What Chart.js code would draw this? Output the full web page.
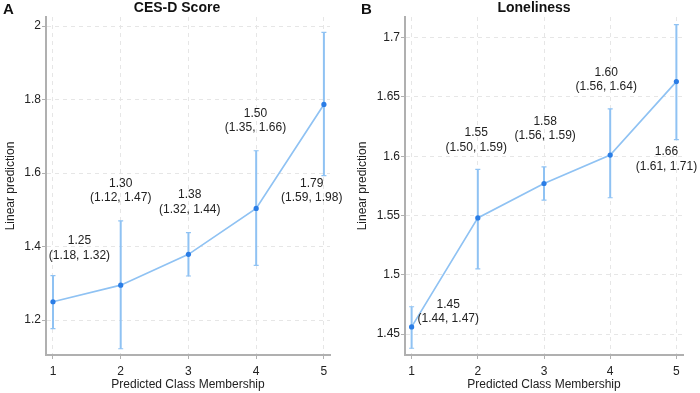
<!DOCTYPE html>
<html>
<head>
<meta charset="utf-8">
<script src="https://cdn.jsdelivr.net/npm/chart.js@4"></script>
<style>
  body { margin: 0; background: #fff; }
  .panel { position: absolute; top: 0; width: 350px; height: 393px; }
</style>
</head>
<body>
<div class="panel" style="left:0"><canvas id="chartA" width="350" height="393"></canvas></div>
<div class="panel" style="left:350px"><canvas id="chartB" width="350" height="393"></canvas></div>
<script>
// Data
const classes = [1, 2, 3, 4, 5];
const xTicks = [1, 2, 3, 4, 5];

// Panel A - CES-D score
const cesdMean = [1.250, 1.295, 1.379, 1.504, 1.787];
const cesdLow = [1.177, 1.122, 1.320, 1.349, 1.593];
const cesdHigh = [1.321, 1.470, 1.438, 1.661, 1.983];
const cesdValueText = ["1.25", "1.30", "1.38", "1.50", "1.79"];
const cesdCIText = ["(1.18, 1.32)", "(1.12, 1.47)", "(1.32, 1.44)", "(1.35, 1.66)", "(1.59, 1.98)"];
const cesdTicks = [1.2, 1.4, 1.6, 1.8, 2];

// Panel B - Loneliness
const lonMean = [1.456, 1.548, 1.577, 1.601, 1.663];
const lonLow = [1.438, 1.505, 1.563, 1.565, 1.614];
const lonHigh = [1.473, 1.589, 1.591, 1.640, 1.711];
const lonValueText = ["1.45", "1.55", "1.58", "1.60", "1.66"];
const lonCIText = ["(1.44, 1.47)", "(1.50, 1.59)", "(1.56, 1.59)", "(1.56, 1.64)", "(1.61, 1.71)"];
const lonTicks = [1.45, 1.5, 1.55, 1.6, 1.65, 1.7];

const FONT = "'Liberation Sans', Arial, sans-serif";
const LINE_BLUE = "#8fc2f3";
const DOT_BLUE = "#2a7de6";

// error bars with small caps, drawn under the line
const errorBars = {
  id: "errorBars",
  beforeDatasetsDraw(chart, args, opts) {
    const { ctx, scales: { x, y } } = chart;
    ctx.save();
    ctx.strokeStyle = opts.color;
    ctx.lineWidth = opts.width;
    opts.low.forEach((lo, i) => {
      const px = x.getPixelForValue(opts.at[i]);
      const top = y.getPixelForValue(opts.high[i]);
      const bot = y.getPixelForValue(lo);
      ctx.beginPath();
      ctx.moveTo(px, top);
      ctx.lineTo(px, bot);
      ctx.stroke();
      ctx.lineWidth = 1.2;
      ctx.beginPath();
      ctx.moveTo(px - opts.cap, top);
      ctx.lineTo(px + opts.cap, top);
      ctx.moveTo(px - opts.cap, bot);
      ctx.lineTo(px + opts.cap, bot);
      ctx.stroke();
      ctx.lineWidth = opts.width;
    });
    ctx.restore();
  },
};

// value + CI text next to each point
const pointLabels = {
  id: "pointLabels",
  afterDatasetsDraw(chart, args, opts) {
    const { ctx, scales: { x, y } } = chart;
    ctx.save();
    ctx.font = "12px " + FONT;
    ctx.fillStyle = "#222";
    ctx.textAlign = "center";
    ctx.textBaseline = "middle";
    opts.spots.forEach((s, i) => {
      const px = x.getPixelForValue(s[0]);
      const py = y.getPixelForValue(s[1]);
      ctx.fillText(opts.value[i], px, py);
      ctx.fillText(opts.ci[i], px, py + 14.5);
    });
    ctx.restore();
  },
};

// panel letter and title
const panelHead = {
  id: "panelHead",
  afterDraw(chart, args, opts) {
    const { ctx } = chart;
    ctx.save();
    ctx.fillStyle = "#111";
    ctx.textBaseline = "middle";
    ctx.font = "bold 15px " + FONT;
    ctx.textAlign = "left";
    ctx.fillText(opts.letter, opts.letterX, 10);
    ctx.font = "bold 14px " + FONT;
    ctx.textAlign = "center";
    ctx.fillText(opts.title, opts.titleX, 8);
    ctx.restore();
  },
};

function makePanel(id, p) {
  return new Chart(document.getElementById(id), {
    type: "line",
    data: {
      datasets: [
        {
          data: classes.map((c, i) => ({ x: c, y: p.mean[i] })),
          borderColor: LINE_BLUE,
          borderWidth: 1.7,
          pointRadius: 2.6,
          pointBorderWidth: 0,
          pointBackgroundColor: DOT_BLUE,
          tension: 0,
        },
      ],
    },
    options: {
      responsive: false,
      animation: false,
      devicePixelRatio: 1,
      layout: { padding: { left: 0, right: p.padRight, top: 17, bottom: 0 } },
      plugins: {
        legend: { display: false },
        tooltip: { enabled: false },
        errorBars: { low: p.low, high: p.high, at: classes, color: LINE_BLUE, width: 2, cap: 2.5 },
        pointLabels: { spots: p.spots, value: p.valueText, ci: p.ciText },
        panelHead: { letter: p.letter, letterX: p.letterX, title: p.title, titleX: p.titleX },
      },
      scales: {
        x: {
          type: "linear",
          min: p.xMin,
          max: p.xMax,
          afterBuildTicks: (s) => { s.ticks = xTicks.map((v) => ({ value: v })); },
          afterFit: (s) => { s.height = 38; },
          grid: { color: "#e6e6e6", lineWidth: 1, tickLength: 4, tickColor: "#b0b0b0", tickWidth: 1 },
          border: { color: "#b0b0b0", width: 2, dash: [4, 4] },
          ticks: { color: "#222", padding: 5, maxRotation: 0, font: { family: FONT, size: 12 } },
          title: {
            display: true,
            text: "Predicted Class Membership",
            color: "#222",
            padding: { top: 0, bottom: 1 },
            font: { family: FONT, size: 12 },
          },
        },
        y: {
          min: p.yMin,
          max: p.yMax,
          afterBuildTicks: (s) => { s.ticks = p.yTicks.map((v) => ({ value: v })); },
          afterFit: (s) => { s.width = p.yAxisWidth; },
          grid: { color: "#e6e6e6", lineWidth: 1, tickLength: 4, tickColor: "#b0b0b0", tickWidth: 1 },
          border: { color: "#b0b0b0", width: 2, dash: [4, 4] },
          ticks: {
            color: "#222",
            padding: 1,
            font: { family: FONT, size: 12 },
            callback: (v) => String(Number(v.toFixed(2))),
          },
          title: {
            display: true,
            text: "Linear prediction",
            color: "#222",
            padding: { top: p.yTitlePad, bottom: 0 },
            font: { family: FONT, size: 12 },
          },
        },
      },
    },
    plugins: [errorBars, pointLabels, panelHead],
  });
}

makePanel("chartA", {
  mean: cesdMean, low: cesdLow, high: cesdHigh,
  valueText: cesdValueText, ciText: cesdCIText, yTicks: cesdTicks,
  yMin: 1.105, yMax: 2.025, xMin: 0.897, xMax: 5.09,
  yAxisWidth: 46, padRight: 20, yTitlePad: 3,
  letter: "A", letterX: 3, title: "CES-D Score", titleX: 177,
  spots: [[1.39, 1.415], [2.0, 1.572], [3.02, 1.54], [3.99, 1.762], [4.82, 1.572]],
});

makePanel("chartB", {
  mean: lonMean, low: lonLow, high: lonHigh,
  valueText: lonValueText, ciText: lonCIText, yTicks: lonTicks,
  yMin: 1.4323, yMax: 1.7175, xMin: 0.9, xMax: 5.1,
  yAxisWidth: 55, padRight: 17, yTitlePad: 5,
  letter: "B", letterX: 11, title: "Loneliness", titleX: 184,
  spots: [[1.554, 1.475], [1.976, 1.6197], [3.017, 1.6295], [3.94, 1.6709], [4.85, 1.6036]],
});
</script>
</body>
</html>
